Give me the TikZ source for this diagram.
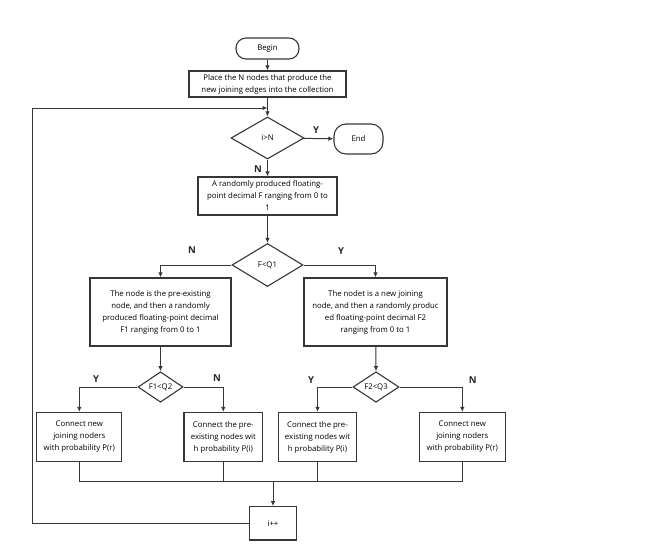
\documentclass[tikz,border=0pt]{standalone}
\usepackage{fontspec}
\setmainfont{Open Sans}
\usetikzlibrary{arrows.meta, positioning, calc, shapes.geometric}
\definecolor{linegray}{RGB}{55, 55, 55}

\begin{document}
\begin{tikzpicture}[x=1pt, y=-1pt,
  flowbox/.style={draw=linegray, line width=1.1pt, rectangle, inner sep=1pt,
    align=center, font=\fontsize{7.8}{12}\selectfont},
  startstop/.style={flowbox, rounded corners=10pt},
  decision/.style={draw=linegray, line width=1.1pt, diamond, inner sep=0pt,
    align=center, font=\fontsize{7.8}{12}\selectfont},
  arr/.style={draw=linegray, line width=1pt, -{Latex[length=5pt, width=4.5pt]}},
  joint/.style={draw=linegray, line width=1pt},
  yn/.style={font=\fontsize{9.5}{10}\selectfont\bfseries, text=black!85}]
  \useasboundingbox (0,0) rectangle (650,557);

  % main column
  \node[startstop, minimum width=63pt, minimum height=21pt] (begin) at (267.5,48.5) {Begin};
  \node[flowbox, minimum width=157pt, minimum height=26pt] (place) at (267.5,84)
    {Place the N nodes that produce the\\new joining edges into the collection};
  \node[decision, minimum width=73pt, minimum height=42pt] (check) at (267.5,138) {i>N};
  \node[startstop, rounded corners=12pt, minimum width=49pt, minimum height=30pt] (end) at (358.5,139) {End};
  \node[flowbox, minimum width=139pt, minimum height=38pt] (rand) at (267.5,196)
    {A randomly produced floating-\\point decimal F ranging from 0 to\\1};
  \node[decision, minimum width=71pt, minimum height=43pt] (q1) at (267.5,265) {F<Q1};

  % second level
  \node[flowbox, minimum width=141pt, minimum height=68pt] (preex) at (160.5,312)
    {The node is the pre-existing\\node, and then a randomly\\produced floating-point decimal\\F1 ranging from 0 to 1};
  \node[flowbox, minimum width=143pt, minimum height=68pt] (newj) at (375.5,312)
    {The nodet is a new joining\\node, and then a randomly produc\\ed floating-point decimal F2\\ranging from 0 to 1};
  \node[decision, minimum width=45pt, minimum height=28pt] (q2) at (160.5,387) {F1<Q2};
  \node[decision, minimum width=46pt, minimum height=28pt] (q3) at (376,387) {F2<Q3};

  % third level
  \node[flowbox, minimum width=85pt, minimum height=49pt] (c1) at (79.3,437)
    {Connect new\\joining noders\\with probability P(r)};
  \node[flowbox, minimum width=78.7pt, minimum height=49pt] (c2) at (223.3,437)
    {Connect the pre-\\existing nodes wit\\h probability P(i)};
  \node[flowbox, minimum width=78pt, minimum height=49pt] (c3) at (317.5,437)
    {Connect the pre-\\existing nodes wit\\h probability P(i)};
  \node[flowbox, minimum width=86pt, minimum height=49pt] (c4) at (462.3,437)
    {Connect new\\joining noders\\with probability P(r)};
  \node[flowbox, minimum width=47.4pt, minimum height=33.3pt] (inc) at (273,523.3) {i++};

  % connectors
  \draw[arr] (begin) -- (place);
  \draw[arr] (place) -- (check);
  \draw[arr] (check) -- (end);
  \draw[arr] (check) -- (rand);
  \draw[arr] (rand) -- (q1);
  \draw[arr] (q1.west) -| (preex.north);
  \draw[arr] (q1.east) -| (newj.north);
  \draw[arr] (preex) -- (q2);
  \draw[arr] (newj) -- (q3.north);
  \draw[arr] (q2.west) -| (c1.north);
  \draw[arr] (q2.east) -| (c2.north);
  \draw[arr] (q3.west) -| (c3.north);
  \draw[arr] (q3.east) -| (c4.north);

  % merge into i++
  \coordinate (mergeL) at (79.3,481.7);
  \coordinate (mergeR) at (462.3,481.7);
  \coordinate (mergeC) at (273,481.7);
  \draw[joint] (c1.south) -- (mergeL) -- (mergeR) -- (c4.south);
  \draw[joint] (c2.south) -- (c2.south |- mergeL);
  \draw[joint] (c3.south) -- (c3.south |- mergeL);
  \draw[arr] (mergeC) -- (inc.north);

  % loop back
  \coordinate (loopin) at (267.5,108);
  \draw[arr] (inc.west) -| (32,108) -- (loopin);

  % labels
  \node[yn] (ycheck) at (316,130) {Y};
  \node[yn] (ncheck) at (258,169) {N};
  \node[yn] (nq1) at (192,250) {N};
  \node[yn] (yq1) at (341,251) {Y};
  \node[yn] (yq2) at (96,379) {Y};
  \node[yn] (nq2) at (217,378) {N};
  \node[yn] (yq3) at (311,380) {Y};
  \node[yn] (nq3) at (472.7,380) {N};
\end{tikzpicture}
\end{document}
